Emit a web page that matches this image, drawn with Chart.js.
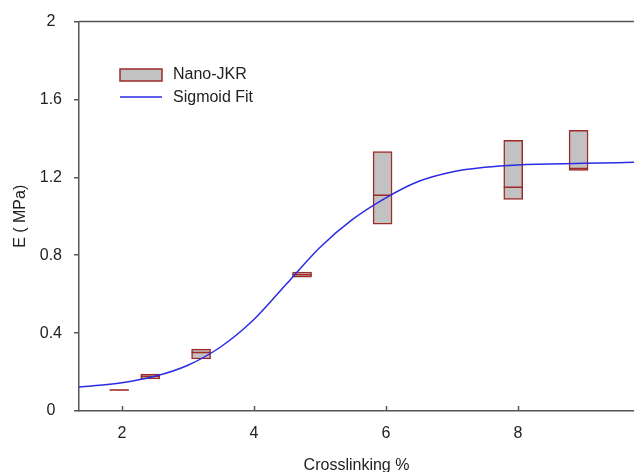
<!DOCTYPE html>
<html>
<head>
<meta charset="utf-8">
<script src="https://cdn.jsdelivr.net/npm/chart.js@4.4.1/dist/chart.umd.min.js"></script>
<style>
  body { margin: 0; background: #fff; }
  #wrap { width: 634px; height: 472px; }
</style>
</head>
<body>
<div id="wrap"><canvas id="jkrChart" width="634" height="472"></canvas></div>
<script>
// Nano-JKR boxes: crosslinking %, box low / high, median
const boxX = [1.96, 2.43, 3.2, 4.73, 5.95, 7.93, 8.92];
const boxLow = [0.107, 0.165, 0.267, 0.687, 0.959, 1.087, 1.236];
const boxHigh = [0.109, 0.19, 0.318, 0.713, 1.333, 1.39, 1.441];
const boxMedian = [0.108, 0.178, 0.3, 0.70, 1.108, 1.149, 1.246];

// Sigmoid fit
const fitX = [1.35, 2.0, 2.5, 3.0, 3.5, 4.0, 4.5, 5.0, 5.5, 6.0, 6.5, 7.0, 7.5, 8.0, 9.0, 9.76];
const fitY = [0.123, 0.145, 0.178, 0.235, 0.33, 0.47, 0.655, 0.84, 0.985, 1.095, 1.18, 1.228, 1.252, 1.264, 1.272, 1.277];

const xTicks = [2, 4, 6, 8];
const yTicks = [0, 0.4, 0.8, 1.2, 1.6, 2];

const boxFill = "#c2c2c2";
const boxEdge = "#9e2a2a";
const fitColor = "#2b2be6";
const axisColor = "#555555";
const textColor = "#222222";
const font = "'Liberation Sans', Arial, sans-serif";

// frame on top + inner x ticks + legend inside the plot
const extras = {
  id: "extras",
  afterDraw(chart) {
    const { ctx, chartArea } = chart;
    const xs = chart.scales.x;
    ctx.save();
    ctx.strokeStyle = axisColor;
    ctx.lineWidth = 1.5;
    ctx.beginPath();
    ctx.moveTo(chartArea.left, chartArea.top);
    ctx.lineTo(chartArea.right, chartArea.top);
    xTicks.forEach((v) => {
      const px = Math.round(xs.getPixelForValue(v)) + 0.5;
      ctx.moveTo(px, chartArea.bottom);
      ctx.lineTo(px, chartArea.bottom - 5);
    });
    ctx.stroke();

    // legend
    ctx.fillStyle = boxFill;
    ctx.fillRect(120, 69, 42, 12);
    ctx.strokeStyle = boxEdge;
    ctx.lineWidth = 1.5;
    ctx.strokeRect(120, 69, 42, 12);
    ctx.strokeStyle = fitColor;
    ctx.lineWidth = 1.5;
    ctx.beginPath();
    ctx.moveTo(120, 97);
    ctx.lineTo(162, 97);
    ctx.stroke();
    ctx.fillStyle = textColor;
    ctx.font = "16px " + font;
    ctx.textBaseline = "middle";
    ctx.fillText("Nano-JKR", 173, 75);
    ctx.fillText("Sigmoid Fit", 173, 98);
    ctx.restore();
  },
};

const ctx = document.getElementById("jkrChart").getContext("2d");
new Chart(ctx, {
  data: {
    datasets: [
      {
        type: "bar",
        label: "Nano-JKR",
        data: boxX.map((x, i) => ({ x: x, y: [boxLow[i], boxHigh[i]] })),
        backgroundColor: boxFill,
        borderColor: boxEdge,
        borderWidth: 1.5,
        borderSkipped: false,
        barThickness: 19,
        order: 2,
      },
      {
        type: "line",
        label: "Median",
        data: boxX.map((x, i) => ({ x: x, y: boxMedian[i] })),
        showLine: false,
        pointStyle: "line",
        pointRadius: 9.5,
        pointBorderColor: boxEdge,
        pointBorderWidth: 1.5,
        order: 1,
      },
      {
        type: "line",
        label: "Sigmoid Fit",
        data: fitX.map((x, i) => ({ x: x, y: fitY[i] })),
        borderColor: fitColor,
        borderWidth: 1.5,
        pointRadius: 0,
        cubicInterpolationMode: "monotone",
        order: 0,
      },
    ],
  },
  options: {
    responsive: false,
    animation: false,
    layout: { autoPadding: false, padding: { top: 21, right: 0, left: 0, bottom: 0 } },
    plugins: {
      legend: { display: false },
      tooltip: { enabled: false },
    },
    scales: {
      x: {
        type: "linear",
        min: 1.35,
        max: 9.76,
        offset: false,
        afterBuildTicks: (s) => { s.ticks = xTicks.map((v) => ({ value: v })); },
        afterFit: (s) => { s.height = 61; },
        ticks: { color: textColor, font: { size: 16, family: font }, padding: 13 },
        grid: { display: false, drawTicks: false },
        border: { color: axisColor, width: 1.5 },
        title: {
          display: true,
          text: "Crosslinking %",
          color: textColor,
          font: { size: 16, family: font },
          padding: { top: 0, bottom: -3 },
        },
      },
      y: {
        min: 0,
        max: 2,
        afterBuildTicks: (s) => { s.ticks = yTicks.map((v) => ({ value: v })); },
        afterFit: (s) => { s.width = 79; },
        ticks: {
          color: textColor,
          font: { size: 16, family: font },
          padding: 12,
          crossAlign: "center",
          callback: (v) => String(v),
        },
        grid: { drawOnChartArea: false, drawTicks: true, tickLength: 5, color: axisColor, lineWidth: 1.5 },
        border: { color: axisColor, width: 1.5 },
        title: {
          display: true,
          text: "E ( MPa)",
          color: textColor,
          font: { size: 16, family: font },
          padding: { top: 11, bottom: 0 },
        },
      },
    },
  },
  plugins: [extras],
});
</script>
</body>
</html>
